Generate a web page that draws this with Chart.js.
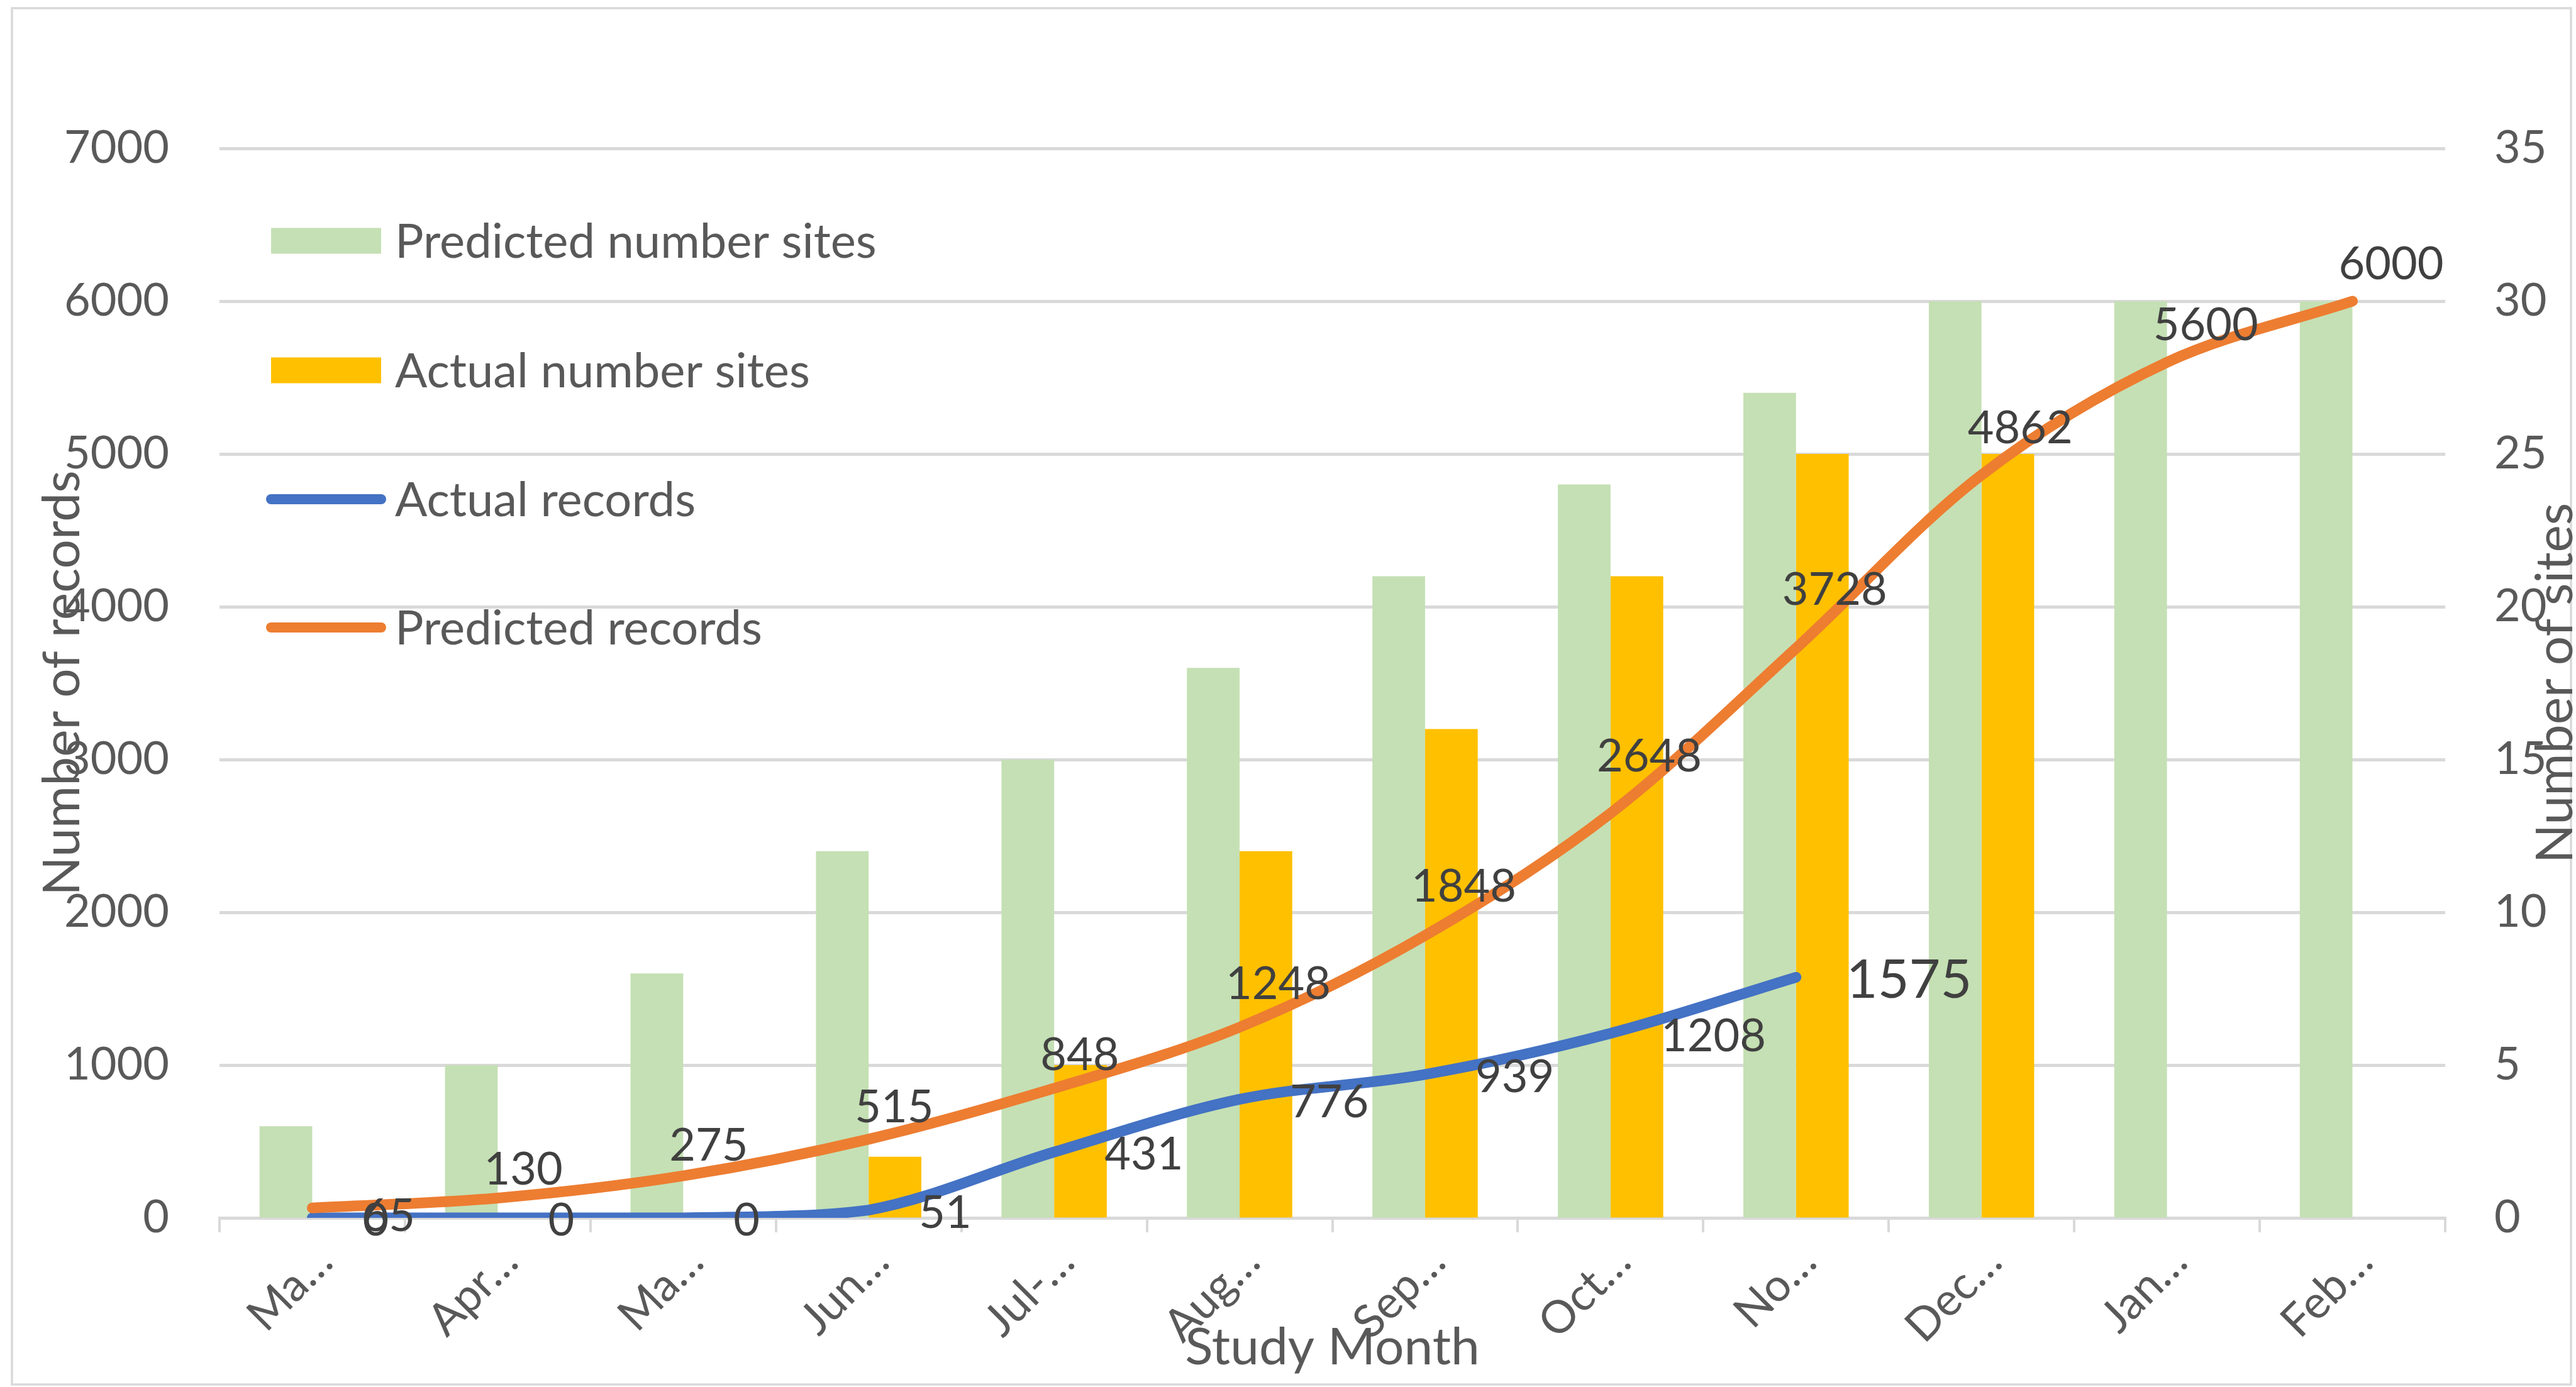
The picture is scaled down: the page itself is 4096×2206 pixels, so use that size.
<!DOCTYPE html>
<html>
<head>
<meta charset="utf-8">
<script src="https://cdn.jsdelivr.net/npm/chart.js@4/dist/chart.umd.min.js"></script>
<style>
html,body{margin:0;padding:0;background:#ffffff;}
#wrap{width:4096px;height:2206px;position:relative;overflow:hidden;}
</style>
</head>
<body>
<div id="wrap"><canvas id="c" width="4096" height="2206"></canvas></div>
<script>
// ---- data ----
const categories = ['Ma…','Apr…','Ma…','Jun…','Jul-…','Aug…','Sep…','Oct…','No…','Dec…','Jan…','Feb…'];
const predictedSites = [3,5,8,12,15,18,21,24,27,30,30,30];
const actualSites = [0,0,0,2,5,12,16,21,25,25,null,null];
const actualRecords = [0,0,0,51,431,776,939,1208,1575];
const predictedRecords = [65,130,275,515,848,1248,1848,2648,3728,4862,5600,6000];
const recordsAxis = {min:0, max:7000, step:1000};
const sitesAxis = {min:0, max:35, step:5};
const axisTitles = {x:'Study Month', y:'Number of records', y1:'Number of sites'};

// ---- style ----
const FONT = 'Lato, "Noto Sans", sans-serif';
const TXT = '#595959';
const LBL = '#404040';
const GRID = '#D9D9D9';

const W = 4096, H = 2206;

const framePlugin = {
  id:'frame',
  beforeDraw(chart){
    const c = chart.ctx;
    c.save();
    c.fillStyle = '#ffffff';
    c.fillRect(0,0,W,H);
    c.strokeStyle = GRID;
    c.lineWidth = 3.5;
    c.strokeRect(19,13,4088-19,2202-13);
    c.restore();
  }
};

const labelPlugin = {
  id:'datalabels',
  afterDatasetsDraw(chart){
    const c = chart.ctx;
    c.save();
    c.fillStyle = LBL;
    chart.data.datasets.forEach((ds, di) => {
      if (ds.type !== 'line') return;
      const meta = chart.getDatasetMeta(di);
      const pts = meta.data;
      const n = ds.data.length;
      for (let i = 0; i < n; i++) {
        const v = ds.data[i];
        if (v == null) continue;
        const p = pts[i];
        const txt = String(v);
        const big = (ds.bigLast && i === n - 1);
        c.font = (big ? 86 : 72) + 'px ' + FONT;
        const rightAt = ds.labelRightAt && ds.labelRightAt.includes(i);
        const mode = rightAt ? 'right' : ds.labelMode;
        if (mode === 'right') {
          c.textAlign = 'left';
          c.textBaseline = 'middle';
          c.fillText(txt, p.x + 80, p.y + (rightAt ? 14 : 5));
        } else {
          const w = c.measureText(txt).width;
          let s;
          if (i < n - 1) s = (p.y - pts[i+1].y) / (pts[i+1].x - p.x);
          else s = (pts[i-1].y - p.y) / (p.x - pts[i-1].x);
          const cs = w/2 - 22;
          c.textAlign = 'left';
          c.textBaseline = 'alphabetic';
          c.fillText(txt, p.x - 22, p.y - 17 - 0.9*s*cs);
        }
      }
    });
    c.restore();
  }
};

const legendPlugin = {
  id:'customLegend',
  afterDraw(chart){
    const c = chart.ctx;
    const order = [2,3,1,0];
    const ys = [383,589,794,998];
    c.save();
    order.forEach((di, k) => {
      const ds = chart.data.datasets[di];
      const y = ys[k];
      if (ds.type === 'bar') {
        c.fillStyle = ds.backgroundColor;
        c.fillRect(431, y - 20.5, 175, 41);
      } else {
        c.strokeStyle = ds.borderColor;
        c.lineWidth = 16;
        c.lineCap = 'round';
        c.beginPath();
        c.moveTo(431, y);
        c.lineTo(606, y);
        c.stroke();
      }
      c.fillStyle = TXT;
      c.font = '76px ' + FONT;
      c.textAlign = 'left';
      c.textBaseline = 'middle';
      c.fillText(ds.label, 628, y + 2);
    });
    // axis titles
    const a = chart.chartArea;
    c.font = '82px ' + FONT;
    c.fillStyle = TXT;
    c.textAlign = 'center';
    c.textBaseline = 'alphabetic';
    c.fillText(axisTitles.x, (a.left + a.right)/2, 2170);
    const cy = (a.top + a.bottom)/2;
    c.save();
    c.translate(126, cy);
    c.rotate(-Math.PI/2);
    c.fillText(axisTitles.y, 0, 0);
    c.restore();
    c.save();
    c.translate(4090, cy);
    c.rotate(-Math.PI/2);
    c.fillText(axisTitles.y1, 0, 0);
    c.restore();
    c.restore();
  }
};

const ctx = document.getElementById('c').getContext('2d');
new Chart(ctx, {
  type:'bar',
  data:{
    labels: categories,
    datasets:[
      {type:'line', label:'Predicted records', data:predictedRecords, yAxisID:'y',
       borderColor:'#ED7D31', backgroundColor:'#ED7D31', borderWidth:17, pointRadius:0,
       tension:0.33, borderCapStyle:'round', borderJoinStyle:'round',
       order:0, labelMode:'above', labelRightAt:[0]},
      {type:'line', label:'Actual records', data:actualRecords, yAxisID:'y',
       borderColor:'#4472C4', backgroundColor:'#4472C4', borderWidth:17, pointRadius:0,
       tension:0.33, borderCapStyle:'round', borderJoinStyle:'round',
       order:1, labelMode:'right', bigLast:true},
      {type:'bar', label:'Predicted number sites', data:predictedSites, yAxisID:'y1',
       backgroundColor:'#C5E0B4', order:2, barPercentage:1, categoryPercentage:0.568},
      {type:'bar', label:'Actual number sites', data:actualSites, yAxisID:'y1',
       backgroundColor:'#FFC000', order:3, barPercentage:1, categoryPercentage:0.568}
    ]
  },
  options:{
    responsive:false,
    devicePixelRatio:1,
    animation:false,
    layout:{padding:{top:236,left:0,right:0,bottom:0}},
    plugins:{legend:{display:false}, title:{display:false}, tooltip:{enabled:false}},
    scales:{
      x:{
        position:'bottom',
        offset:true,
        grid:{display:true, drawOnChartArea:false, drawTicks:true, tickLength:23, color:GRID, lineWidth:4, offset:true},
        border:{display:true, color:GRID, width:5},
        ticks:{font:{family:FONT, size:72}, color:TXT, minRotation:45, maxRotation:45, autoSkip:false, padding:4, labelOffset:20},
        afterFit(s){ s.height = 269; }
      },
      y:{
        position:'left',
        min:recordsAxis.min, max:recordsAxis.max,
        grid:{color:GRID, lineWidth:5, drawTicks:false},
        border:{display:false},
        ticks:{stepSize:recordsAxis.step, font:{family:FONT, size:72}, color:TXT, padding:80,
               callback:(v) => String(v)},
        afterFit(s){ s.width = 349; }
      },
      y1:{
        position:'right',
        min:sitesAxis.min, max:sitesAxis.max,
        grid:{drawOnChartArea:false, drawTicks:false},
        border:{display:false},
        ticks:{stepSize:sitesAxis.step, font:{family:FONT, size:72}, color:TXT, padding:78,
               callback:(v) => String(v)},
        afterFit(s){ s.width = 208; }
      }
    }
  },
  plugins:[framePlugin, labelPlugin, legendPlugin]
});
</script>
</body>
</html>
